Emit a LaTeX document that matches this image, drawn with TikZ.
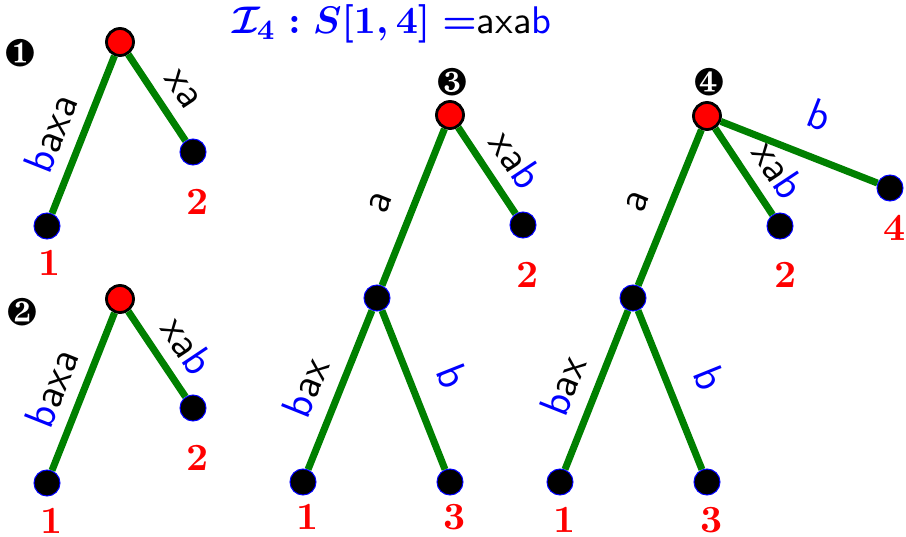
\documentclass[tikz,border=0pt,11pt]{standalone}
\usepackage{tikz}
\usepackage{xcolor}
\usepackage{pifont}
\usepackage{amsmath}
\definecolor{edgegreen}{HTML}{008000}

\begin{document}
\begin{tikzpicture}[
    every node/.style={inner sep=0pt},
    root/.style={circle, draw=black, line width=0.8pt, fill=red, minimum size=0.27cm},
    leaf/.style={circle, draw=blue, line width=0.3pt, fill=black, minimum size=0.26cm},
    edg/.style={draw=edgegreen, line width=2pt},
    lab/.style={font=\sffamily\large, sloped, text height=1.6ex, text depth=0pt},
    num/.style={font=\bfseries, text=red},
    tag/.style={font=\normalsize}
]
    \useasboundingbox (0,0) rectangle (9.06,-5.37);

    % ===== title =====
    \node[text=blue] (title) at (3.92,-0.24) {{\boldmath$\mathcal{I}_4 : S[1,4] =$}\textsf{\textcolor{black}{axa}b}};

    % ===== tree 1 =====
    \begin{scope}[shift={(1.20,-0.42)}]
        \node[root] (r1)  at (0, 0)        {};
        \node[leaf] (r1a) at (-0.73, -1.84) {};
        \node[leaf] (r1b) at ( 0.73, -1.10) {};
        \node[num] (n1a) at (-0.70, -2.21) {1};
        \node[num] (n1b) at ( 0.78, -1.60) {2};
        \node[tag] (t1)  at (-1.00, -0.11) {\ding{182}};
        \draw[edg] (r1a) -- node[lab, pos=.44, above=3.6pt] {\textcolor{blue}{b}axa} (r1);
        \draw[edg] (r1) -- node[lab, pos=.57, above=3.6pt] {xa} (r1b);
    \end{scope}

    % ===== tree 2 =====
    \begin{scope}[shift={(1.20,-2.99)}]
        \node[root] (r2)  at (0, 0)        {};
        \node[leaf] (r2a) at (-0.73, -1.84) {};
        \node[leaf] (r2b) at ( 0.73, -1.09) {};
        \node[num] (n2a) at (-0.68, -2.22) {1};
        \node[num] (n2b) at ( 0.78, -1.59) {2};
        \node[tag] (t2)  at (-0.98, -0.13) {\ding{183}};
        \draw[edg] (r2a) -- node[lab, pos=.45, above=3.6pt] {\textcolor{blue}{b}axa} (r2);
        \draw[edg] (r2) -- node[lab, pos=.60, above=3.6pt] {xa\textcolor{blue}{b}} (r2b);
    \end{scope}

    % ===== tree 3 =====
    \begin{scope}[shift={(4.50,-1.15)}]
        \node[root] (r3)  at (0, 0)        {};
        \node[leaf] (m3)  at (-0.73, -1.83) {};
        \node[leaf] (r3a) at (-1.47, -3.67) {};
        \node[leaf] (r3c) at ( 0,    -3.67) {};
        \node[leaf] (r3b) at ( 0.73, -1.10) {};
        \node[num] (n3a) at (-1.42, -4.02) {1};
        \node[num] (n3c) at ( 0.05, -4.02) {3};
        \node[num] (n3b) at ( 0.78, -1.60) {2};
        \node[tag] (t3)  at ( 0.02,  0.33) {\ding{184}};
        \draw[edg] (m3) -- node[lab, pos=.45, above=5.3pt] {a} (r3);
        \draw[edg] (r3) -- node[lab, pos=.57, above=3.6pt] {xa\textcolor{blue}{b}} (r3b);
        \draw[edg] (r3a) -- node[lab, pos=.44, above=4.3pt] {\textcolor{blue}{b}ax} (m3);
        \draw[edg] (m3) -- node[lab, pos=.51, above=6.8pt, text=blue] {b} (r3c);
    \end{scope}

    % ===== tree 4 =====
    \begin{scope}[shift={(7.07,-1.16)}]
        \node[root] (r4)  at (0, 0)        {};
        \node[leaf] (m4)  at (-0.74, -1.82) {};
        \node[leaf] (r4a) at (-1.47, -3.66) {};
        \node[leaf] (r4c) at ( 0,    -3.66) {};
        \node[leaf] (r4b) at ( 0.73, -1.10) {};
        \node[leaf] (r4d) at ( 1.83, -0.72) {};
        \node[num] (n4a) at (-1.42, -4.04) {1};
        \node[num] (n4c) at ( 0.05, -4.04) {3};
        \node[num] (n4b) at ( 0.79, -1.59) {2};
        \node[num] (n4d) at ( 1.88, -1.12) {4};
        \node[tag] (t4)  at ( 0.02,  0.34) {\ding{185}};
        \draw[edg] (m4) -- node[lab, pos=.46, above=5.3pt] {a} (r4);
        \draw[edg] (r4) -- node[lab, pos=.67, above=3.6pt] {xa\textcolor{blue}{b}} (r4b);
        \draw[edg] (r4) -- node[lab, pos=.53, above=6.8pt, text=blue] {b} (r4d);
        \draw[edg] (r4a) -- node[lab, pos=.45, above=4.3pt] {\textcolor{blue}{b}ax} (m4);
        \draw[edg] (m4) -- node[lab, pos=.52, above=6.8pt, text=blue] {b} (r4c);
    \end{scope}
\end{tikzpicture}
\end{document}
